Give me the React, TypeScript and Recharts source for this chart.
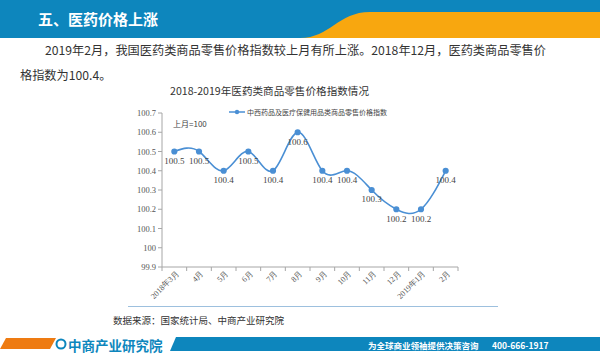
import React from 'react';
import { LineChart, Line, XAxis, YAxis, Legend, LabelList } from 'recharts';

const months = ['2018年3月', '4月', '5月', '6月', '7月', '8月', '9月', '10月', '11月', '12月', '2019年1月', '2月'];
const priceIndex = [100.5, 100.5, 100.4, 100.5, 100.4, 100.6, 100.4, 100.4, 100.3, 100.2, 100.2, 100.4];
const yTicks = [99.9, 100, 100.1, 100.2, 100.3, 100.4, 100.5, 100.6, 100.7];

const seriesName = '中西药品及医疗保健用品类商品零售价格指数';

const data = months.map((m, i) => ({ month: m, value: priceIndex[i] }));

const LINE_COLOR = '#4a8fd4';
const AXIS_COLOR = '#a6a6a6';
const STEP = 296 / months.length;
const cjk = '"Noto Sans CJK SC", "Noto Sans", sans-serif';
const serif = 'Liberation Serif, DejaVu Serif, serif';

const MonthTick = (props: any) => {
  const { x, y, payload, index } = props;
  return (
    <g>
      {index === 0 && <line x1={x - STEP / 2} y1={y} x2={x - STEP / 2} y2={y + 4} stroke={AXIS_COLOR} />}
      <line x1={x + STEP / 2} y1={y} x2={x + STEP / 2} y2={y + 4} stroke={AXIS_COLOR} />
      <g transform={`translate(${x + 5},${y + 7})`}>
        <text textAnchor="end" transform="rotate(-45)" fontSize={8} fill="#555" style={{ fontFamily: serif }}>
          {payload.value}
        </text>
      </g>
    </g>
  );
};

const LegendContent = () => (
  <div style={{ display: 'flex', alignItems: 'center', fontFamily: cjk, fontSize: 7, color: '#444' }}>
    <svg width={18} height={8}>
      <line x1={0} y1={4} x2={16} y2={4} stroke={LINE_COLOR} strokeWidth={1.5} />
      <circle cx={8} cy={4} r={2.2} fill={LINE_COLOR} />
    </svg>
    <span>{seriesName}</span>
  </div>
);

const App: React.FC = () => {
  return (
    <div style={{ position: 'absolute', left: 0, top: 0, width: 600, height: 355, background: '#fff', overflow: 'hidden', fontFamily: cjk }}>
      {/* header band */}
      <svg width={600} height={40} style={{ position: 'absolute', left: 0, top: 0 }}>
        <rect x={0} y={0} width={600} height={38} fill="#0d86bd" />
        <path d="M 300 38 C 330 38, 338 12, 370 12 L 600 12 L 600 38 Z" fill="#f8a70f" />
      </svg>
      <div style={{ position: 'absolute', left: 38, top: 8, fontSize: 15, fontWeight: 700, color: '#fff' }}>
        五、医药价格上涨
      </div>

      {/* paragraph */}
      <div style={{ position: 'absolute', left: 45, top: 41, fontSize: 12.2, color: '#333', whiteSpace: 'nowrap' }}>
        2019年2月，我国医药类商品零售价格指数较上月有所上涨。2018年12月，医药类商品零售价
      </div>
      <div style={{ position: 'absolute', left: 20, top: 66, fontSize: 12.2, color: '#333', whiteSpace: 'nowrap' }}>
        格指数为100.4。
      </div>

      {/* chart title */}
      <div style={{ position: 'absolute', left: 170, top: 83, fontSize: 10.6, color: '#333', whiteSpace: 'nowrap' }}>
        2018-2019年医药类商品零售价格指数情况
      </div>
      <div style={{ position: 'absolute', left: 173, top: 118, fontSize: 8, color: '#444', whiteSpace: 'nowrap' }}>
        上月=100
      </div>

      <div style={{ position: 'absolute', left: 0, top: 0 }}>
        <LineChart width={600} height={355} data={data} margin={{ top: 103, right: 142, bottom: 38, left: 122 }}>
          <XAxis
            dataKey="month"
            interval={0}
            padding={{ left: STEP / 2, right: STEP / 2 }}
            axisLine={{ stroke: AXIS_COLOR }}
            tickLine={false}
            tickSize={0}
            tickMargin={0}
            height={50}
            tick={<MonthTick />}
          />
          <YAxis
            domain={[99.9, 100.7]}
            ticks={yTicks}
            width={40}
            axisLine={{ stroke: AXIS_COLOR }}
            tickLine={{ stroke: AXIS_COLOR }}
            tickSize={4}
            tickFormatter={(v: number) => (v === 100 ? '100' : v.toFixed(1))}
            tick={{ fontSize: 8.5, fill: '#555', style: { fontFamily: serif } }}
            allowDataOverflow
          />
          <Legend
            verticalAlign="top"
            content={<LegendContent />}
            wrapperStyle={{ position: 'absolute', left: 229, top: 107, width: 'auto' }}
          />
          <Line
            type="natural"
            dataKey="value"
            name={seriesName}
            stroke={LINE_COLOR}
            strokeWidth={1.6}
            dot={{ r: 2.3, fill: LINE_COLOR, stroke: LINE_COLOR }}
            isAnimationActive={false}
          >
            <LabelList
              dataKey="value"
              position="bottom"
              offset={6}
              formatter={(v: number) => v.toFixed(1)}
              style={{ fontSize: 9, fill: '#444', fontFamily: serif }}
            />
          </Line>
        </LineChart>
      </div>

      {/* source + divider */}
      <div style={{ position: 'absolute', left: 128, top: 306, width: 370, height: 1, background: '#9dc0de' }} />
      <div style={{ position: 'absolute', left: 113, top: 313, fontSize: 9.5, color: '#333', whiteSpace: 'nowrap' }}>
        数据来源：国家统计局、中商产业研究院
      </div>

      {/* footer */}
      <svg width={600} height={20} style={{ position: 'absolute', left: 0, top: 336 }}>
        <path d="M 6 2 L 56 2 L 50 13 L 0 13 Z" fill="#ee7b12" />
        <path d="M 176 1 L 600 1 L 600 15 L 170 15 Z" fill="#0d86bd" />
        <circle cx={61} cy={8} r={4.5} fill="none" stroke="#0d86bd" strokeWidth={2} />
      </svg>
      <div style={{ position: 'absolute', left: 68, top: 335, fontSize: 13.5, fontWeight: 700, color: '#0d86bd', whiteSpace: 'nowrap' }}>
        中商产业研究院
      </div>
      <div style={{ position: 'absolute', left: 368, top: 339, fontSize: 8.5, fontWeight: 700, color: '#fff', whiteSpace: 'nowrap' }}>
        为全球商业领袖提供决策咨询
      </div>
      <div style={{ position: 'absolute', left: 492, top: 339, fontSize: 8.5, fontWeight: 700, color: '#fff', whiteSpace: 'nowrap' }}>
        400-666-1917
      </div>
    </div>
  );
};

export default App;
